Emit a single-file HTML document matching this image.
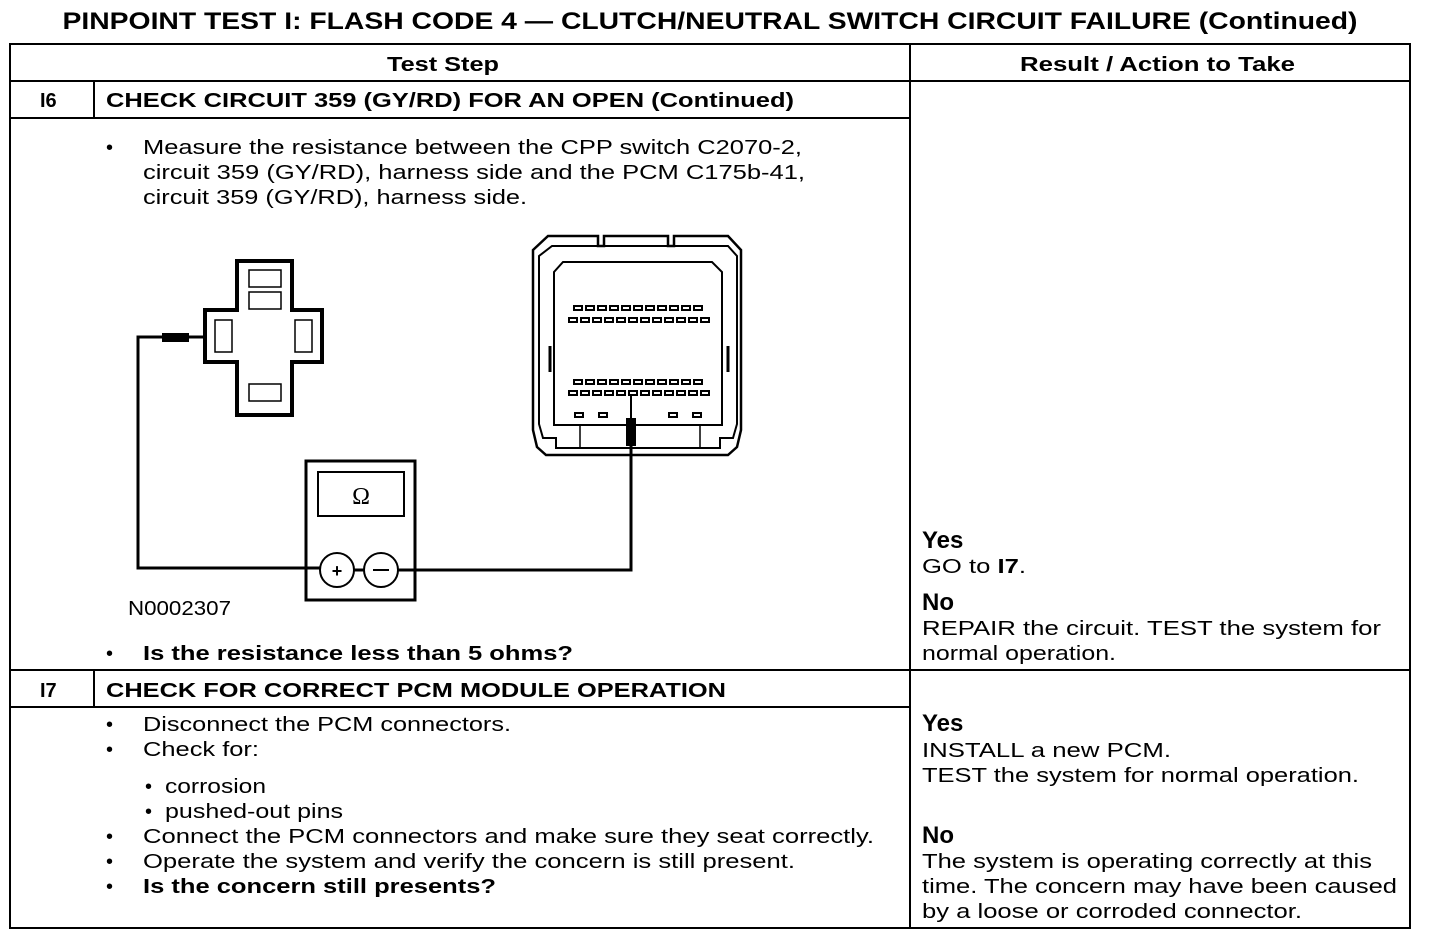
<!DOCTYPE html>
<html><head><meta charset="utf-8"><style>
html,body{margin:0;padding:0;background:#fff;}
svg{display:block;}
text{font-family:"Liberation Sans",Arial,sans-serif;fill:#000;}
.b{font-weight:bold;}
</style></head><body>
<svg width="1440" height="944" viewBox="0 0 1440 944" xmlns="http://www.w3.org/2000/svg">
<text x="710" y="29" text-anchor="middle" class="b" font-size="24" textLength="1295" lengthAdjust="spacingAndGlyphs">PINPOINT TEST I: FLASH CODE 4 — CLUTCH/NEUTRAL SWITCH CIRCUIT FAILURE (Continued)</text>
<g stroke="#000" stroke-width="2" fill="none">
<rect x="10" y="44" width="1400" height="884"/>
<line x1="910" y1="44" x2="910" y2="928"/>
<line x1="10" y1="81" x2="1410" y2="81"/>
<line x1="10" y1="118" x2="910" y2="118"/>
<line x1="10" y1="670" x2="1410" y2="670"/>
<line x1="10" y1="707" x2="910" y2="707"/>
<line x1="94" y1="81" x2="94" y2="118"/>
<line x1="94" y1="670" x2="94" y2="707"/>
</g>
<g font-size="20">
<text x="387" y="71" class="b" textLength="112" lengthAdjust="spacingAndGlyphs">Test Step</text>
<text x="1020" y="71" class="b" textLength="275" lengthAdjust="spacingAndGlyphs">Result / Action to Take</text>
<text x="40" y="107" class="b">I6</text>
<text x="106" y="107" class="b" textLength="688" lengthAdjust="spacingAndGlyphs">CHECK CIRCUIT 359 (GY/RD) FOR AN OPEN (Continued)</text>
<text x="106" y="154">•</text>
<text x="143" y="154" textLength="659" lengthAdjust="spacingAndGlyphs">Measure the resistance between the CPP switch C2070-2,</text>
<text x="143" y="179" textLength="662" lengthAdjust="spacingAndGlyphs">circuit 359 (GY/RD), harness side and the PCM C175b-41,</text>
<text x="143" y="204" textLength="384" lengthAdjust="spacingAndGlyphs">circuit 359 (GY/RD), harness side.</text>
<text x="128" y="615" textLength="103" lengthAdjust="spacingAndGlyphs">N0002307</text>
<text x="106" y="660">•</text>
<text x="143" y="660" class="b" textLength="430" lengthAdjust="spacingAndGlyphs">Is the resistance less than 5 ohms?</text>
<text x="922" y="548" class="b" font-size="24">Yes</text>
<text x="922" y="573" textLength="104" lengthAdjust="spacingAndGlyphs">GO to <tspan class="b">I7</tspan>.</text>
<text x="922" y="610" class="b" font-size="24">No</text>
<text x="922" y="635" textLength="459" lengthAdjust="spacingAndGlyphs">REPAIR the circuit. TEST the system for</text>
<text x="922" y="660" textLength="194" lengthAdjust="spacingAndGlyphs">normal operation.</text>
<text x="40" y="697" class="b">I7</text>
<text x="106" y="697" class="b" textLength="620" lengthAdjust="spacingAndGlyphs">CHECK FOR CORRECT PCM MODULE OPERATION</text>
<text x="106" y="731">•</text><text x="143" y="731" textLength="368" lengthAdjust="spacingAndGlyphs">Disconnect the PCM connectors.</text>
<text x="106" y="756">•</text><text x="143" y="756" textLength="116" lengthAdjust="spacingAndGlyphs">Check for:</text>
<text x="145" y="793">•</text><text x="165" y="793" textLength="101" lengthAdjust="spacingAndGlyphs">corrosion</text>
<text x="145" y="818">•</text><text x="165" y="818" textLength="178" lengthAdjust="spacingAndGlyphs">pushed-out pins</text>
<text x="106" y="843">•</text><text x="143" y="843" textLength="731" lengthAdjust="spacingAndGlyphs">Connect the PCM connectors and make sure they seat correctly.</text>
<text x="106" y="868">•</text><text x="143" y="868" textLength="652" lengthAdjust="spacingAndGlyphs">Operate the system and verify the concern is still present.</text>
<text x="106" y="893">•</text><text x="143" y="893" class="b" textLength="353" lengthAdjust="spacingAndGlyphs">Is the concern still presents?</text>
<text x="922" y="731" class="b" font-size="24">Yes</text>
<text x="922" y="757" textLength="249" lengthAdjust="spacingAndGlyphs">INSTALL a new PCM.</text>
<text x="922" y="782" textLength="437" lengthAdjust="spacingAndGlyphs">TEST the system for normal operation.</text>
<text x="922" y="843" class="b" font-size="24">No</text>
<text x="922" y="868" textLength="450" lengthAdjust="spacingAndGlyphs">The system is operating correctly at this</text>
<text x="922" y="893" textLength="475" lengthAdjust="spacingAndGlyphs">time. The concern may have been caused</text>
<text x="922" y="918" textLength="380" lengthAdjust="spacingAndGlyphs">by a loose or corroded connector.</text>
</g>
<!-- CPP cross connector -->
<g stroke="#000" fill="none">
<path d="M237 261 H292 V310 H322 V362 H292 V415 H237 V362 H205 V310 H237 Z" stroke-width="4"/>
<g stroke-width="1.5">
<rect x="249" y="270" width="32" height="17"/>
<rect x="249" y="292" width="32" height="17"/>
<rect x="215" y="320" width="17" height="32"/>
<rect x="295" y="320" width="17" height="32"/>
<rect x="249" y="384" width="32" height="17"/>
</g>
<path d="M205 337 H138 V568 H321" stroke-width="3"/>
<path d="M354 570 H364" stroke-width="3"/>
<path d="M398 570 H631 V446" stroke-width="3"/>
<!-- meter -->
<rect x="306" y="461" width="109" height="139" stroke-width="3"/>
<rect x="318" y="472" width="86" height="44" stroke-width="2"/>
<circle cx="337" cy="570" r="17" stroke-width="2"/>
<circle cx="381" cy="570" r="17" stroke-width="2"/>
</g>
<rect x="162" y="333" width="27" height="9" fill="#000"/>
<rect x="626" y="418" width="10" height="28" fill="#000"/>
<text x="361" y="504" text-anchor="middle" style="font-family:'Liberation Serif',serif" font-size="24">Ω</text>
<text x="337" y="577" text-anchor="middle" class="b" font-size="18">+</text>
<line x1="373" y1="570" x2="389" y2="570" stroke="#000" stroke-width="2"/>
<!-- PCM connector -->
<g stroke="#000" fill="none" stroke-width="2.5">
<path d="M548 236 H598 V246 H604 V236 H668 V246 H674 V236 H728 L741 250 V430 L737 447 L728 455 H546 L537 447 L533 430 V250 Z"/>
<path d="M552 246 H728 L737 256 V424 L733 438 H720 V448 H556 V438 H543 L539 424 V256 Z" stroke-width="2"/>
<path d="M563 262 H712 L722 272 V425 H554 V272 Z" stroke-width="2"/>
<path d="M566 262 H710" stroke-width="1.5"/>
<line x1="580" y1="425" x2="580" y2="448" stroke-width="1.5"/>
<line x1="700" y1="425" x2="700" y2="448" stroke-width="1.5"/>
<path d="M550 346 V372 M728 346 V372" stroke-width="3"/>
<line x1="631" y1="392" x2="631" y2="420" stroke-width="2"/>
</g>
<g fill="#fff" stroke="#000" stroke-width="2">
<rect x="574" y="306" width="8" height="4"/><rect x="586" y="306" width="8" height="4"/><rect x="598" y="306" width="8" height="4"/><rect x="610" y="306" width="8" height="4"/><rect x="622" y="306" width="8" height="4"/><rect x="634" y="306" width="8" height="4"/><rect x="646" y="306" width="8" height="4"/><rect x="658" y="306" width="8" height="4"/><rect x="670" y="306" width="8" height="4"/><rect x="682" y="306" width="8" height="4"/><rect x="694" y="306" width="8" height="4"/>
<rect x="569" y="318" width="8" height="4"/><rect x="581" y="318" width="8" height="4"/><rect x="593" y="318" width="8" height="4"/><rect x="605" y="318" width="8" height="4"/><rect x="617" y="318" width="8" height="4"/><rect x="629" y="318" width="8" height="4"/><rect x="641" y="318" width="8" height="4"/><rect x="653" y="318" width="8" height="4"/><rect x="665" y="318" width="8" height="4"/><rect x="677" y="318" width="8" height="4"/><rect x="689" y="318" width="8" height="4"/><rect x="701" y="318" width="8" height="4"/>
<rect x="574" y="380" width="8" height="4"/><rect x="586" y="380" width="8" height="4"/><rect x="598" y="380" width="8" height="4"/><rect x="610" y="380" width="8" height="4"/><rect x="622" y="380" width="8" height="4"/><rect x="634" y="380" width="8" height="4"/><rect x="646" y="380" width="8" height="4"/><rect x="658" y="380" width="8" height="4"/><rect x="670" y="380" width="8" height="4"/><rect x="682" y="380" width="8" height="4"/><rect x="694" y="380" width="8" height="4"/>
<rect x="569" y="391" width="8" height="4"/><rect x="581" y="391" width="8" height="4"/><rect x="593" y="391" width="8" height="4"/><rect x="605" y="391" width="8" height="4"/><rect x="617" y="391" width="8" height="4"/><rect x="629" y="391" width="8" height="4"/><rect x="641" y="391" width="8" height="4"/><rect x="653" y="391" width="8" height="4"/><rect x="665" y="391" width="8" height="4"/><rect x="677" y="391" width="8" height="4"/><rect x="689" y="391" width="8" height="4"/><rect x="701" y="391" width="8" height="4"/>
<rect x="575" y="413" width="8" height="4"/><rect x="599" y="413" width="8" height="4"/><rect x="669" y="413" width="8" height="4"/><rect x="693" y="413" width="8" height="4"/>
</g>
</svg>
</body></html>
